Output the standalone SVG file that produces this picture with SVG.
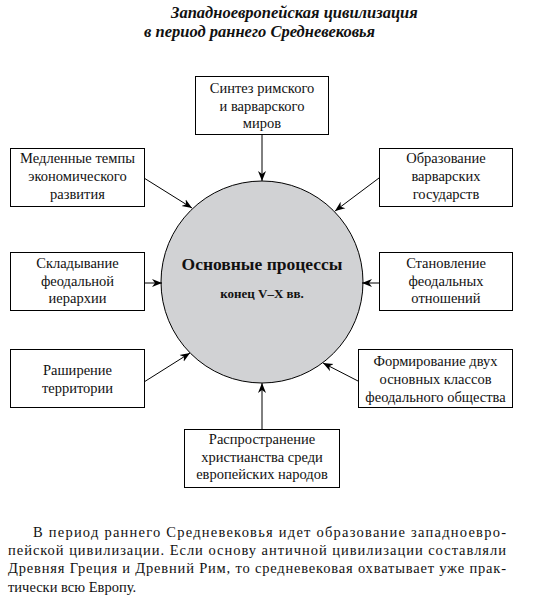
<svg xmlns="http://www.w3.org/2000/svg" width="533" height="603" viewBox="0 0 533 603">
<style>
.box{fill:#fff;stroke:#000;stroke-width:1}
.t{font-size:14.5px;fill:#111;text-anchor:middle}
.title{font-size:16.5px;font-weight:bold;font-style:italic;fill:#111}
.p{font-size:14.5px;fill:#111}
.c{stroke:#000;stroke-width:1;fill:none;marker-end:url(#ah)}
</style>
<defs>
<marker id="ah" viewBox="0 0 10 10" refX="10" refY="5" markerWidth="10" markerHeight="10" markerUnits="userSpaceOnUse" orient="auto">
<path d="M0,1 L10,5 L0,9 L3,5 Z" fill="#000"/>
</marker>
</defs>
<rect width="533" height="603" fill="#fff"/>
<g font-family="Liberation Serif, serif">
<text class="title" x="171" y="18">Западноевропейская цивилизация</text>
<text class="title" x="144" y="37">в период раннего Средневековья</text>

<g id="center">
<circle cx="262" cy="282" r="101" fill="#d1d2d4" stroke="#000" stroke-width="1"/>
<text x="262" y="270" text-anchor="middle" font-weight="bold" font-size="17.5px" fill="#111">Основные процессы</text>
<text x="262" y="298" text-anchor="middle" font-weight="bold" font-size="13px" fill="#111">конец V–X вв.</text>
</g>

<g id="n-sintez">
<rect class="box" x="195.5" y="76.5" width="133" height="58"/>
<text class="t" x="262" y="93">Синтез римского</text>
<text class="t" x="262" y="111">и варварского</text>
<text class="t" x="262" y="128">миров</text>
</g>
<g id="n-medlennye">
<rect class="box" x="10.5" y="148.5" width="134" height="58"/>
<text class="t" x="77.5" y="163">Медленные темпы</text>
<text class="t" x="77.5" y="181">экономического</text>
<text class="t" x="77.5" y="199">развития</text>
</g>
<g id="n-obrazovanie">
<rect class="box" x="379.5" y="148.5" width="133" height="58"/>
<text class="t" x="446" y="163">Образование</text>
<text class="t" x="446" y="181">варварских</text>
<text class="t" x="446" y="199">государств</text>
</g>
<g id="n-skladyvanie">
<rect class="box" x="10.5" y="252.5" width="134" height="58"/>
<text class="t" x="77.5" y="268">Складывание</text>
<text class="t" x="77.5" y="286">феодальной</text>
<text class="t" x="77.5" y="303">иерархии</text>
</g>
<g id="n-stanovlenie">
<rect class="box" x="379.5" y="252.5" width="133" height="58"/>
<text class="t" x="446" y="268">Становление</text>
<text class="t" x="446" y="286">феодальных</text>
<text class="t" x="446" y="303">отношений</text>
</g>
<g id="n-rashirenie">
<rect class="box" x="10.5" y="349.5" width="134" height="58"/>
<text class="t" x="77.5" y="375">Раширение</text>
<text class="t" x="77.5" y="393">территории</text>
</g>
<g id="n-formirovanie">
<rect class="box" x="358.5" y="349.5" width="154" height="58"/>
<text class="t" x="435.5" y="366">Формирование двух</text>
<text class="t" x="435.5" y="384">основных классов</text>
<text class="t" x="435.5" y="402">феодального общества</text>
</g>
<g id="n-rasprostranenie">
<rect class="box" x="184.5" y="429.5" width="155" height="58"/>
<text class="t" x="262" y="444">Распространение</text>
<text class="t" x="262" y="462">христианства среди</text>
<text class="t" x="262" y="479">европейских народов</text>
</g>

<text class="p" x="33" y="537" textLength="473" lengthAdjust="spacing">В период раннего Средневековья идет образование западноевро-</text>
<text class="p" x="8" y="555" textLength="498" lengthAdjust="spacing">пейской цивилизации. Если основу античной цивилизации составляли</text>
<text class="p" x="8" y="573" textLength="498" lengthAdjust="spacing">Древняя Греция и Древний Рим, то средневековая охватывает уже прак-</text>
<text class="p" x="8" y="592">тически всю Европу.</text>
</g>
<g id="connectors">
<line class="c" x1="262" y1="135" x2="262" y2="181"/>
<line class="c" x1="144" y1="178" x2="192" y2="208"/>
<line class="c" x1="379" y1="178" x2="335" y2="211"/>
<line class="c" x1="144" y1="283" x2="162" y2="283"/>
<line class="c" x1="379" y1="283" x2="362" y2="283"/>
<line class="c" x1="144" y1="382" x2="190" y2="353"/>
<line class="c" x1="358" y1="381" x2="323" y2="363"/>
<line class="c" x1="262" y1="429" x2="262" y2="383"/>
</g>
</svg>
